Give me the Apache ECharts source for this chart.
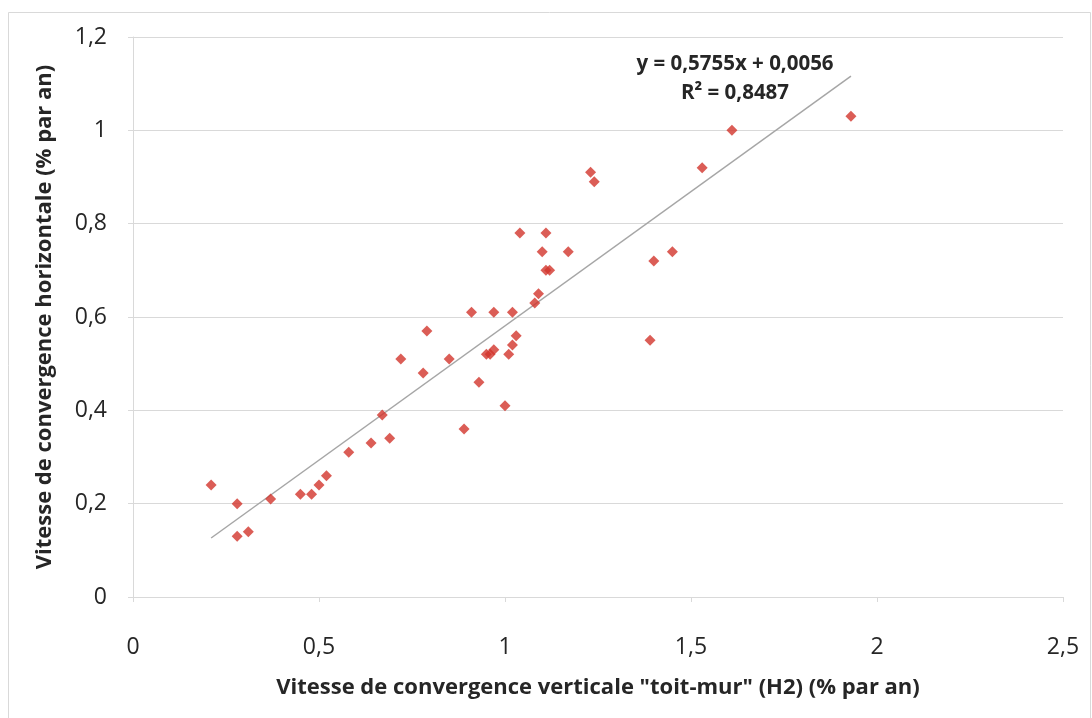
<!DOCTYPE html>
<html>
<head>
<meta charset="utf-8">
<script src="https://cdn.jsdelivr.net/npm/echarts@6/dist/echarts.min.js"></script>
<style>html,body{margin:0;padding:0;background:#fff;}#c{width:1092px;height:718px;}</style>
</head>
<body>
<div id="c"></div>
<script>
// Data
const xValues = [0.21,0.28,0.28,0.31,0.37,0.45,0.48,0.50,0.52,0.58,0.64,0.67,0.69,0.72,0.78,0.79,0.85,0.89,0.91,0.93,0.95,0.96,0.97,0.97,1.00,1.01,1.02,1.02,1.03,1.04,1.08,1.09,1.10,1.11,1.11,1.12,1.17,1.23,1.24,1.39,1.40,1.45,1.53,1.61,1.93];
const yValues = [0.24,0.20,0.13,0.14,0.21,0.22,0.22,0.24,0.26,0.31,0.33,0.39,0.34,0.51,0.48,0.57,0.51,0.36,0.61,0.46,0.52,0.52,0.53,0.61,0.41,0.52,0.54,0.61,0.56,0.78,0.63,0.65,0.74,0.78,0.70,0.70,0.74,0.91,0.89,0.55,0.72,0.74,0.92,1.00,1.03];
const trendSlope = 0.5755;
const trendIntercept = 0.0056;
const trendXRange = [0.21, 1.93];
const equationText = 'y = 0,5755x + 0,0056';
const r2Text = 'R² = 0,8487';
const xTitle = 'Vitesse de convergence verticale "toit-mur" (H2) (% par an)';
const yTitle = 'Vitesse de convergence horizontale (% par an)';

const points = xValues.map((x, i) => [x, yValues[i]]);
const trend = trendXRange.map(x => [x, trendSlope * x + trendIntercept]);
const fmt = v => String(v).replace('.', ',');
const FONT = '"Open Sans", "Noto Sans", sans-serif';

const chart = echarts.init(document.getElementById('c'), null, {renderer: 'canvas'});
chart.setOption({
  animation: false,
  backgroundColor: '#fff',
  grid: {left: 133, right: 29, top: 37, bottom: 121, containLabel: false},
  xAxis: {
    type: 'value', min: 0, max: 2.5, interval: 0.5,
    name: xTitle, nameLocation: 'middle', nameGap: 80,
    nameTextStyle: {fontFamily: FONT, fontWeight: 'bold', fontSize: 22, color: '#262626'},
    axisLine: {show: true, lineStyle: {color: '#d9d9d9', width: 1}},
    axisTick: {show: true, length: 5, lineStyle: {color: '#d9d9d9'}},
    axisLabel: {formatter: fmt, fontFamily: FONT, fontSize: 23, color: '#262626', margin: 39},
    splitLine: {show: false}
  },
  yAxis: {
    type: 'value', min: 0, max: 1.2, interval: 0.2,
    name: yTitle, nameLocation: 'middle', nameGap: 77,
    nameTextStyle: {fontFamily: FONT, fontWeight: 'bold', fontSize: 22, color: '#262626'},
    axisLine: {show: true, lineStyle: {color: '#d9d9d9', width: 1}},
    axisTick: {show: true, length: 5, lineStyle: {color: '#d9d9d9'}},
    axisLabel: {formatter: fmt, fontFamily: FONT, fontSize: 23, color: '#262626', margin: 26},
    splitLine: {show: true, lineStyle: {color: '#d9d9d9', width: 1}}
  },
  graphic: [
    {type: 'rect', shape: {x: 8.5, y: 12.5, width: 1082, height: 712}, style: {fill: 'none', stroke: '#d9d9d9', lineWidth: 1}, silent: true},
    {type: 'text', x: 735, y: 64, style: {text: equationText, fontFamily: FONT, fontWeight: 'bold', fontSize: 20.5, fill: '#262626', align: 'center', verticalAlign: 'middle'}},
    {type: 'text', x: 735, y: 93, style: {text: r2Text, fontFamily: FONT, fontWeight: 'bold', fontSize: 20.5, fill: '#262626', align: 'center', verticalAlign: 'middle'}}
  ],
  series: [
    {
      type: 'line', data: trend, symbol: 'none', silent: true,
      lineStyle: {color: '#a6a6a6', width: 1.5}, z: 1
    },
    {
      type: 'scatter', data: points, symbol: 'diamond', symbolSize: 11,
      itemStyle: {color: '#d2352c'}, z: 2
    }
  ]
});
</script>
</body>
</html>
